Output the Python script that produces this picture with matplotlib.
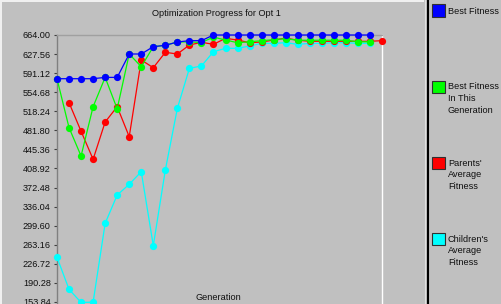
import matplotlib.pyplot as plt
from matplotlib.patches import Rectangle
from matplotlib.lines import Line2D

generations = list(range(28))

best_fitness = [580.5, 580.5, 580.5, 580.5, 583.0, 583.0, 627.7, 627.7,
                641.7, 644.3, 650.6, 653.2, 653.2, 664.0, 664.0, 664.0,
                664.0, 664.0, 664.0, 664.0, 664.0, 664.0, 664.0, 664.0,
                664.0, 664.0, 664.0]
best_in_generation = [580.5, 486.9, 432.8, 527.0, 583.0, 523.0, 627.7, 603.4,
                      641.7, 644.3, 650.6, 651.0, 649.5, 660.0, 654.4, 649.3,
                      651.0, 653.2, 655.0, 657.0, 654.0, 654.0, 654.0, 654.0,
                      654.0, 651.0, 651.0]
parents_average = [None, 534.6, 480.0, 426.5, 497.7, 527.0, 469.7, 616.2,
                   601.5, 630.9, 627.7, 644.9, 650.0, 646.2, 657.6, 654.4,
                   649.3, 650.6, 654.4, 658.0, 654.0, 652.0, 652.0, 652.0,
                   652.0, 652.0, 652.0, 653.2]
children_average = [239.2, 178.0, 153.0, 153.5, 304.1, 358.2, 378.7, 402.8,
                    261.4, 406.0, 523.9, 600.3, 604.8, 632.1, 638.5, 638.5,
                    643.0, 648.0, 648.0, 649.3, 646.2, 648.0, 648.0, 649.3,
                    649.3, 648.0, 648.0]

y_ticks = [153.84, 190.28, 226.72, 263.16, 299.60, 336.04, 372.48, 408.92,
           445.36, 481.80, 518.24, 554.68, 591.12, 627.56, 664.00]

legend_entries = [
    ("#0000ff", ["Best Fitness"]),
    ("#00ff00", ["Best Fitness", "In This", "Generation"]),
    ("#ff0000", ["Parents'", "Average", "Fitness"]),
    ("#00ffff", ["Children's", "Average", "Fitness"]),
]
legend_square_y = [10.5, 86.5, 162.5, 238.5]

plt.rcParams["font.family"] = ["Liberation Sans", "DejaVu Sans"]
BG = "#c0c0c0"
W, H = 501, 304


def px_x(x):
    return x / W


def px_y(y):
    return 1 - y / H


fig = plt.figure(figsize=(5.01, 3.04), dpi=100, facecolor=BG)

# plot area: top at y=35 px (664), 0.5233 px per unit, extends past the bottom edge
y_bottom = 117.4
ax_top = 35
ax_bot = ax_top + (664.0 - y_bottom) * 19.07 / 36.44
ax = fig.add_axes([px_x(57), px_y(ax_bot), px_x(382 - 57), (ax_bot - ax_top) / H])
ax.set_facecolor(BG)
ax.set_xlim(0, 27)
ax.set_ylim(y_bottom, 664.0)

ms = 5.2
series = [
    (children_average, "#00ffff"),
    (parents_average, "#ff0000"),
    (best_in_generation, "#00ff00"),
    (best_fitness, "#0000ff"),
]
for values, color in series:
    xs = [g for g, v in zip(generations, values) if v is not None]
    ys = [v for v in values if v is not None]
    ax.plot(xs, ys, color=color, lw=0.9, marker="o", ms=ms,
            markeredgewidth=0, clip_on=False, zorder=3)

ax.set_yticks(y_ticks)
ax.set_yticklabels([f"{t:.2f}" for t in y_ticks])
ax.set_xticks([])
ax.tick_params(axis="y", direction="out", length=2.5, width=0.8, color="#404040",
               pad=2, labelsize=6.6, labelcolor="#101010")
ax.spines["left"].set_color("#808080")
ax.spines["top"].set_color("#a0a0a0")
ax.spines["right"].set_color("white")
ax.spines["bottom"].set_visible(False)
for s in ax.spines.values():
    s.set_linewidth(1)

fig.text(px_x(216), px_y(13), "Optimization Progress for Opt 1", ha="center",
         va="center", fontsize=6.6, color="#101010")
fig.text(px_x(218), px_y(298), "Generation", ha="center", va="center",
         fontsize=6.6, color="#101010")

# light edge on left and top of the chart panel
fig.add_artist(Rectangle((0, 0), px_x(2), 1, transform=fig.transFigure,
                         facecolor="#f0f0f0", edgecolor="none"))
fig.add_artist(Rectangle((0, px_y(2)), px_x(424), 2 / H, transform=fig.transFigure,
                         facecolor="#f0f0f0", edgecolor="none"))

# legend panel divider
fig.add_artist(Line2D([px_x(424.5)] * 2, [0, 1], transform=fig.transFigure,
                      color="#e0e0e0", lw=0.8))
fig.add_artist(Line2D([px_x(427.5)] * 2, [0, 1], transform=fig.transFigure,
                      color="black", lw=1.5))

for (color, lines), yc in zip(legend_entries, legend_square_y):
    fig.add_artist(Rectangle((px_x(432), px_y(yc + 6)), 13 / W, 12 / H,
                             transform=fig.transFigure, facecolor=color,
                             edgecolor="#303030", lw=0.8))
    for i, line in enumerate(lines):
        fig.text(px_x(448), px_y(yc + 0.5 + i * 11.7), line, ha="left",
                 va="center", fontsize=6.6, color="#101010")

fig.savefig("out.png", dpi=100, facecolor=BG)
